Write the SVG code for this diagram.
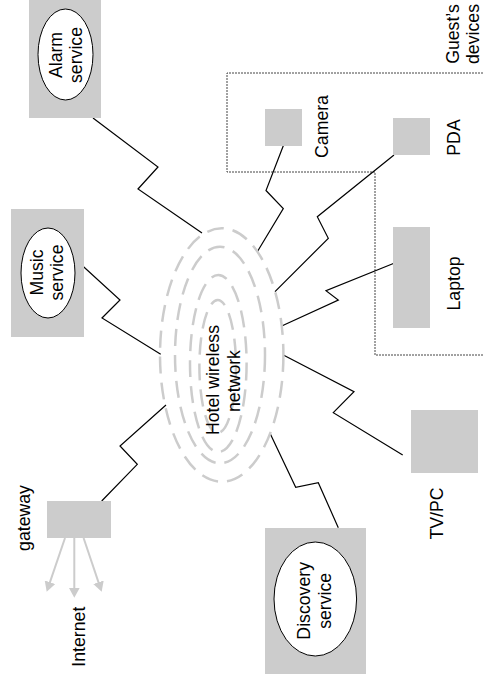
<svg xmlns="http://www.w3.org/2000/svg" width="483" height="689" viewBox="0 0 483 689">
  <style>
    .box { fill: #cccccc; stroke: none; }
    .oval { fill: #ffffff; stroke: #000000; stroke-width: 1; }
    .lbl { font-family: "Liberation Sans", Arial, sans-serif; font-size: 17.7px; fill: #000000; text-anchor: middle; }
    .wave { fill: none; stroke: #cccccc; stroke-width: 2.5; stroke-dasharray: 17 9; }
    .link { fill: none; stroke: #000000; stroke-width: 1.2; stroke-linejoin: miter; }
    .net { fill: none; stroke: #cccccc; stroke-width: 2; marker-end: url(#head); }
    .zone { fill: none; stroke: #444444; stroke-width: 1; stroke-dasharray: 2 1; }
  </style>
  <defs>
    <marker id="head" viewBox="0 0 10 11" markerWidth="10" markerHeight="11" refX="3" refY="5.5" orient="auto" markerUnits="userSpaceOnUse">
      <path d="M0,0 L10,5.5 L0,11 z" fill="#cccccc"/>
    </marker>
  </defs>

  <rect width="483" height="689" fill="#ffffff"/>

  <!-- guest device area -->
  <g id="guest-area">
    <path class="zone" d="M483,73 H227 V172 H375 V355 H483"/>
    <text class="lbl" transform="translate(458.5,34) rotate(-90)">Guest’s</text>
    <text class="lbl" transform="translate(479,34) rotate(-90)">devices</text>
  </g>

  <!-- links between devices/services and the wireless network -->
  <g id="connectors">
    <polyline class="link" points="93,118 158,167 138,189 202,233"/>
    <polyline class="link" points="74,258 120,300 102,318 160.7,354.3"/>
    <polyline class="link" points="101.7,501 137.3,464.3 120,446 166,405"/>
    <polyline class="link" points="283.3,145.7 266,190.5 283.3,208.5 257.3,251.7"/>
    <polyline class="link" points="394,155 317.3,216.7 328.3,238.3 275,291.7"/>
    <polyline class="link" points="394,263.3 326,290.7 338.3,300 281.7,326"/>
    <polyline class="link" points="283.3,355 354,391.7 333.3,412.7 402.7,455"/>
    <polyline class="link" points="338.3,527.7 318.3,482.7 295.7,487.3 270,433.3"/>
    <line class="net" x1="74.3" y1="538" x2="74.3" y2="590.7"/>
    <line class="net" x1="65" y1="538" x2="48.96" y2="585.07"/>
    <line class="net" x1="83.6" y1="538" x2="99.44" y2="585.07"/>
  </g>

  <g id="wireless-network">
    <ellipse class="wave" cx="221.7" cy="355" rx="61.7" ry="126.7"/>
    <ellipse class="wave" cx="220" cy="355" rx="45" ry="108.3"/>
    <ellipse class="wave" cx="218.3" cy="363.5" rx="28.3" ry="88.5"/>
    <ellipse class="wave" cx="217.7" cy="366.5" rx="18.3" ry="66.5"/>
    <text class="lbl" transform="translate(218.5,380) rotate(-90)">Hotel wireless</text>
    <text class="lbl" transform="translate(239.5,381) rotate(-90)">network</text>
  </g>

  <g id="alarm-service">
    <rect class="box" x="29" y="0" width="72" height="118"/>
    <ellipse class="oval" cx="65.5" cy="54.5" rx="27.5" ry="45.5"/>
    <text class="lbl" transform="translate(61.5,55) rotate(-90)">Alarm</text>
    <text class="lbl" transform="translate(81.5,55) rotate(-90)">service</text>
  </g>

  <g id="music-service">
    <rect class="box" x="11" y="209" width="73" height="128"/>
    <ellipse class="oval" cx="48" cy="273" rx="27" ry="45"/>
    <text class="lbl" transform="translate(42.5,272.5) rotate(-90)">Music</text>
    <text class="lbl" transform="translate(63,272.5) rotate(-90)">service</text>
  </g>

  <g id="gateway">
    <rect class="box" x="47" y="501" width="64" height="37"/>
    <text class="lbl" transform="translate(29.5,518) rotate(-90)">gateway</text>
    <text class="lbl" transform="translate(85,636.7) rotate(-90)">Internet</text>
  </g>

  <g id="camera">
    <rect class="box" x="265" y="109" width="37" height="37"/>
    <text class="lbl" transform="translate(328,126.5) rotate(-90)">Camera</text>
  </g>

  <g id="pda">
    <rect class="box" x="393" y="118" width="37" height="37"/>
    <text class="lbl" transform="translate(460,137.5) rotate(-90)">PDA</text>
  </g>

  <g id="laptop">
    <rect class="box" x="393" y="227" width="37" height="101"/>
    <text class="lbl" transform="translate(460,283.5) rotate(-90)">Laptop</text>
  </g>

  <g id="tv-pc">
    <rect class="box" x="411" y="410" width="67" height="63"/>
    <text class="lbl" transform="translate(443,513.5) rotate(-90)">TV/PC</text>
  </g>

  <g id="discovery-service">
    <rect class="box" x="265" y="528" width="101" height="146"/>
    <ellipse class="oval" cx="315.3" cy="599" rx="41.3" ry="57"/>
    <text class="lbl" transform="translate(310,600.8) rotate(-90)">Discovery</text>
    <text class="lbl" transform="translate(331,600.8) rotate(-90)">service</text>
  </g>
</svg>
